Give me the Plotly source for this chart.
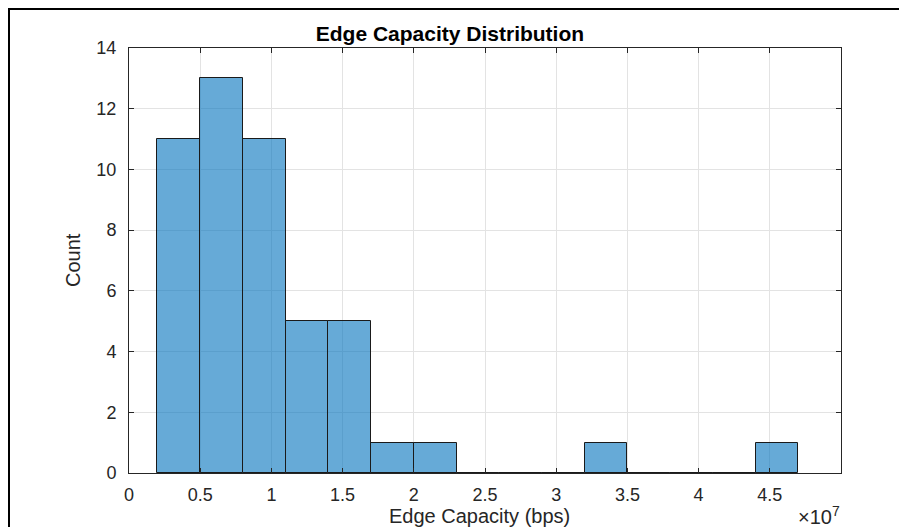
import plotly.graph_objects as go

# Data
bin_edges = [0.2e7, 0.5e7, 0.8e7, 1.1e7, 1.4e7, 1.7e7, 2.0e7, 2.3e7, 2.6e7, 2.9e7,
             3.2e7, 3.5e7, 3.8e7, 4.1e7, 4.4e7, 4.7e7]
counts = [11, 13, 11, 5, 5, 1, 1, 0, 0, 0, 1, 0, 0, 0, 1]
x_tick_vals = [0, 0.5e7, 1e7, 1.5e7, 2e7, 2.5e7, 3e7, 3.5e7, 4e7, 4.5e7]
x_tick_text = ["0", "0.5", "1", "1.5", "2", "2.5", "3", "3.5", "4", "4.5"]
y_tick_vals = [0, 2, 4, 6, 8, 10, 12, 14]

centers = [(a + b) / 2 for a, b in zip(bin_edges[:-1], bin_edges[1:])]
widths = [b - a for a, b in zip(bin_edges[:-1], bin_edges[1:])]

fig = go.Figure()
fig.add_trace(go.Bar(
    x=centers, y=counts, width=widths,
    marker=dict(color="rgba(0,114,189,0.6)", line=dict(color="#1a1a1a", width=1)),
    showlegend=False,
))

OFF = 8  # default body margin of the html page
W, H = 907 - OFF, 527 - OFF
L, T = 129 - OFF, 48 - OFF
pw, ph = 712, 425
R = W - L - pw
B = H - T - ph

def px_x(p):
    return (p - OFF - L) / pw

def px_y(p):
    return (H - B - (p - OFF)) / ph

font_family = "Liberation Sans, Arial, Helvetica, sans-serif"
axcol = "#262626"
gridcol = "#E3E3E3"

fig.update_layout(
    width=W, height=H,
    margin=dict(l=L, r=R, t=T, b=B),
    paper_bgcolor="white", plot_bgcolor="white",
    font=dict(family=font_family, color=axcol, size=18),
    bargap=0,
    title=dict(text="<b>Edge Capacity Distribution</b>", x=px_x(479), xanchor="center",
               y=1 - (34 - OFF) / H, yanchor="middle", font=dict(size=21, color="#000000")),
    xaxis=dict(range=[0, 5e7], tickvals=x_tick_vals, ticktext=x_tick_text,
               showgrid=True, gridcolor=gridcol, gridwidth=1,
               showline=True, linecolor=axcol, linewidth=1, mirror="ticks",
               ticks="inside", ticklen=5, tickcolor=axcol, zeroline=False,
               ticklabelstandoff=5,
               tickfont=dict(size=18, color=axcol)),
    yaxis=dict(range=[0, 14], tickvals=y_tick_vals,
               showgrid=True, gridcolor=gridcol, gridwidth=1,
               showline=True, linecolor=axcol, linewidth=1, mirror="ticks",
               ticks="inside", ticklen=5, tickcolor=axcol, zeroline=False,
               ticklabelstandoff=8,
               tickfont=dict(size=18, color=axcol)),
)

# axis titles
fig.add_annotation(xref="paper", yref="paper", x=px_x(479), y=px_y(516),
                   xanchor="center", yanchor="middle", showarrow=False,
                   text="Edge Capacity (bps)", font=dict(size=20, color=axcol))
fig.add_annotation(xref="paper", yref="paper", x=px_x(73), y=px_y(260),
                   xanchor="center", yanchor="middle", showarrow=False, textangle=-90,
                   text="Count", font=dict(size=20, color=axcol))
fig.add_annotation(xref="paper", yref="paper", x=px_x(842), y=px_y(515),
                   xanchor="right", yanchor="middle", showarrow=False,
                   text="×10<sup>7</sup>", font=dict(size=20, color=axcol))

# outer frame
fig.add_shape(type="rect", xref="paper", yref="paper",
              x0=px_x(9), x1=px_x(940), y0=px_y(560), y1=px_y(9),
              line=dict(color="#000000", width=2), fillcolor="rgba(0,0,0,0)", layer="above")

fig.write_html("out.html")
